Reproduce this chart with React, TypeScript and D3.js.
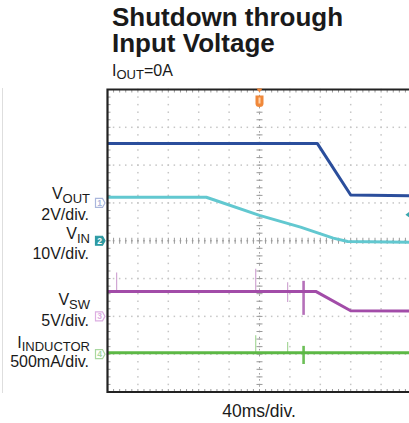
import React from "react";
import * as d3 from "d3";

// Time base: 40 ms per division, 10 divisions across, trigger at centre
const MS_PER_DIV = 40;

// Channel 1 – V_OUT (2 V/div)
const voutTime = [-200, 76, 120, 200];
const voutVolts = [3.15, 3.15, 0.42, 0.38];

// Channel 2 – V_IN (10 V/div)
const vinTime = [-200, -70, 0, 54, 97, 116, 200];
const vinVolts = [11.5, 11.5, 6.7, 3.6, 0.7, -0.2, -0.4];

// Channel 3 – V_SW (5 V/div)
const vswTime = [-200, 74, 120, 200];
const vswVolts = [3.3, 3.3, 0.75, 0.7];

// Channel 4 – I_INDUCTOR (500 mA/div)
const ilTime = [-200, 200];
const ilAmps = [0.02, 0.02];

// Short glitches: [time ms, low, high]
const vswGlitches: [number, number, number][] = [
  [-188, 3.3, 5.8],
  [-5, 3.3, 6.3],
  [37, 1.9, 4.5],
  [58, 0.2, 4.7],
];
const ilGlitches: [number, number, number][] = [
  [-5, 0.02, 0.25],
  [37, 0.02, 0.16],
  [58, -0.13, 0.11],
];

const channels = [
  { id: "1", perDiv: 2, offset: 1, color: "#2b4e9c", marker: "#a9b6dc", filled: false },
  { id: "2", perDiv: 10, offset: 0, color: "#62c8d0", marker: "#2e9aa2", filled: true },
  { id: "3", perDiv: 5, offset: -2, color: "#a24ca8", marker: "#dcaee2", filled: false },
  { id: "4", perDiv: 0.5, offset: -3, color: "#5cb845", marker: "#a9d8a0", filled: false },
];

const W = 409;
const H = 423;
const FONT = "'Liberation Sans', Arial, sans-serif";

export default function App() {
  const xDiv = d3.scaleLinear().domain([-5, 5]).range([107.5, 411.5]);
  const yDiv = d3.scaleLinear().domain([-4, 4]).range([392, 89.5]);
  const xT = (t: number) => xDiv(t / MS_PER_DIV);
  const yCh = (ch: number, v: number) =>
    yDiv(channels[ch].offset + v / channels[ch].perDiv);

  const trace = (ch: number, ts: number[], vs: number[]) =>
    d3
      .line<number>()
      .x((_, i) => xT(ts[i]))
      .y((v) => yCh(ch, v))(vs) as string;

  const majorX = d3.range(-4, 5);
  const majorY = d3.range(-3, 4);
  const minorX = d3.range(-5, 5.001, 0.2);
  const minorY = d3.range(-4, 4.001, 0.2);

  const left = xDiv(-5);
  const top = yDiv(4);
  const bottom = yDiv(-4);
  const right = xDiv(5);

  const gridDot = "#c6c6c6";
  const tickCol = "#9a9a9a";

  return (
    <svg
      width={W}
      height={H}
      style={{ position: "absolute", left: 0, top: 0, background: "#fff" }}
      fontFamily={FONT}
    >
      {/* page edge */}
      <line x1={2.5} x2={2.5} y1={88} y2={393} stroke="#dedede" strokeWidth={1} />

      {/* title */}
      <text x={112} y={26} fontSize={26} fontWeight="bold" fill="#1a1a1a">
        Shutdown through
      </text>
      <text x={112} y={52} fontSize={26} fontWeight="bold" fill="#1a1a1a">
        Input Voltage
      </text>
      <text x={112} y={76} fontSize={16} fill="#1a1a1a">
        I
        <tspan fontSize={13} dy={3}>OUT</tspan>
        <tspan dy={-3}>=0A</tspan>
      </text>

      {/* dotted graticule */}
      <g fill={gridDot}>
        {majorX.map((d) =>
          minorY.map((m) => (
            <rect key={`vx${d}_${m}`} x={xDiv(d) - 0.75} y={yDiv(m) - 0.75} width={1.5} height={1.5} />
          ))
        )}
        {majorY.map((d) =>
          minorX.map((m) => (
            <rect key={`hy${d}_${m}`} x={xDiv(m) - 0.75} y={yDiv(d) - 0.75} width={1.5} height={1.5} />
          ))
        )}
      </g>

      {/* centre axes with minor ticks */}
      <g stroke={tickCol} strokeWidth={1}>
        <line x1={left} x2={right} y1={yDiv(0)} y2={yDiv(0)} strokeDasharray="1.5,4.58" strokeDashoffset={0.75} />
        <line x1={xDiv(0)} x2={xDiv(0)} y1={top} y2={bottom} strokeDasharray="1.5,4.55" strokeDashoffset={0.75} />
        {minorX.map((m) => (
          <line key={`cx${m}`} x1={xDiv(m)} x2={xDiv(m)} y1={yDiv(0) - 3} y2={yDiv(0) + 3} />
        ))}
        {minorY.map((m) => (
          <line key={`cy${m}`} x1={xDiv(0) - 3} x2={xDiv(0) + 3} y1={yDiv(m)} y2={yDiv(m)} />
        ))}
        {/* border ticks */}
        {minorX.map((m) => (
          <g key={`bt${m}`}>
            <line x1={xDiv(m)} x2={xDiv(m)} y1={top} y2={top + 3} />
            <line x1={xDiv(m)} x2={xDiv(m)} y1={bottom} y2={bottom - 3} />
          </g>
        ))}
        {minorY.map((m) => (
          <line key={`bl${m}`} x1={left} x2={left + 3} y1={yDiv(m)} y2={yDiv(m)} />
        ))}
      </g>

      {/* traces */}
      <g fill="none" strokeWidth={3} strokeLinejoin="round">
        <path d={trace(0, voutTime, voutVolts)} stroke={channels[0].color} />
        <path d={trace(1, vinTime, vinVolts)} stroke={channels[1].color} />
        <path d={trace(2, vswTime, vswVolts)} stroke={channels[2].color} />
        <path d={trace(3, ilTime, ilAmps)} stroke={channels[3].color} />
      </g>
      <g>
        {vswGlitches.map(([t, lo, hi], i) => (
          <line
            key={`sg${i}`}
            x1={xT(t)}
            x2={xT(t)}
            y1={yCh(2, lo)}
            y2={yCh(2, hi)}
            stroke={channels[2].color}
            strokeOpacity={i === 3 ? 0.8 : 0.5}
            strokeWidth={i === 3 ? 2.6 : 1.2}
          />
        ))}
        {ilGlitches.map(([t, lo, hi], i) => (
          <line
            key={`ig${i}`}
            x1={xT(t)}
            x2={xT(t)}
            y1={yCh(3, lo)}
            y2={yCh(3, hi)}
            stroke={channels[3].color}
            strokeOpacity={i === 2 ? 0.9 : 0.55}
            strokeWidth={i === 2 ? 2.6 : 1.2}
          />
        ))}
      </g>

      {/* frame */}
      <path
        d={`M${right + 2},${top} H${left} V${bottom} H${right + 2}`}
        fill="none"
        stroke="#222"
        strokeWidth={2.2}
      />

      {/* trigger position marker */}
      <g fill="#f0883a">
        <path d={`M${xDiv(0) - 3},${top - 1} h6 l-3,4 z`} />
        <path
          d={`M${xDiv(0) - 4},${top + 6} v8 q0,3.5 4,3.5 q4,0 4,-3.5 v-8 z`}
        />
        <rect x={xDiv(0) - 1} y={top + 8} width={2} height={6} fill="#ffd2a8" />
      </g>

      {/* trigger level arrow */}
      <path
        d={`M${xDiv(4.8)},${yCh(1, 6.9)} l4,-3 v6 z`}
        fill="#3aa6ae"
      />

      {/* channel ground markers */}
      {channels.map((c) => {
        const y = yDiv(c.offset);
        return (
          <g key={c.id}>
            <path
              d={`M${95.5},${y - 4.5} h7 l2.5,4.5 l-2.5,4.5 h-7 z`}
              fill={c.filled ? c.marker : "#fff"}
              stroke={c.marker}
              strokeWidth={1.2}
            />
            <text
              x={99.5}
              y={y + 3}
              fontSize={8.5}
              textAnchor="middle"
              fill={c.filled ? "#fff" : c.marker}
              fontWeight="bold"
            >
              {c.id}
            </text>
          </g>
        );
      })}

      {/* channel labels */}
      <g fontSize={16} fill="#1a1a1a" textAnchor="end">
        <text x={90} y={199}>
          V<tspan fontSize={13} dy={4}>OUT</tspan>
        </text>
        <text x={89} y={220}>2V/div.</text>
        <text x={90} y={239}>
          V<tspan fontSize={13} dy={4}>IN</tspan>
        </text>
        <text x={89} y={259}>10V/div.</text>
        <text x={90} y={305}>
          V<tspan fontSize={13} dy={4}>SW</tspan>
        </text>
        <text x={89} y={326}>5V/div.</text>
        <text x={90} y={348}>
          I<tspan fontSize={13} dy={3}>INDUCTOR</tspan>
        </text>
        <text x={89} y={367}>500mA/div.</text>
      </g>

      {/* time base */}
      <text x={259} y={417} fontSize={17.5} textAnchor="middle" fill="#1a1a1a">
        40ms/div.
      </text>
    </svg>
  );
}
